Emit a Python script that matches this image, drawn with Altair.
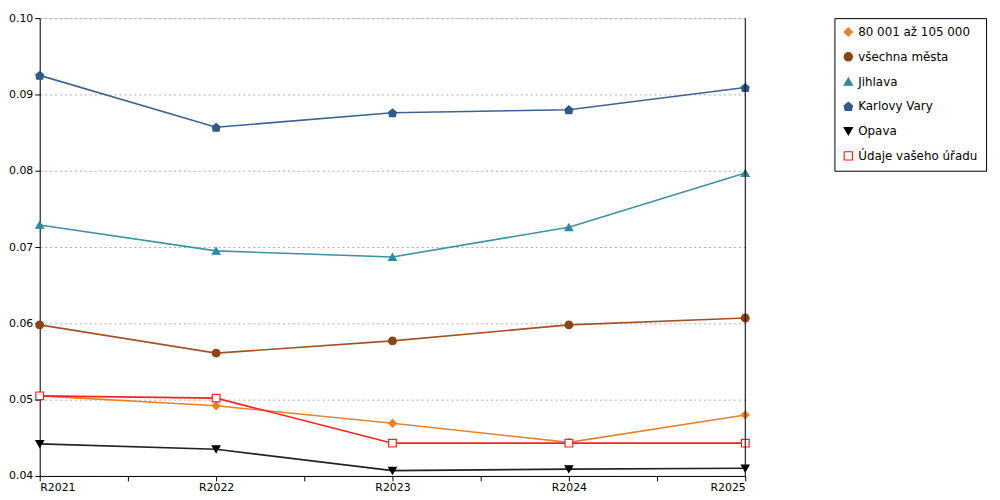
import altair as alt
import pandas as pd

years = ["R2021", "R2022", "R2023", "R2024", "R2025"]
series = ["80 001 až 105 000", "všechna města", "Jihlava", "Karlovy Vary", "Opava", "Údaje vašeho úřadu"]
values = {
    "80 001 až 105 000": [0.0505, 0.0492, 0.0469, 0.0444, 0.0480],
    "všechna města": [0.0598, 0.0561, 0.0577, 0.0598, 0.0607],
    "Jihlava": [0.0729, 0.0695, 0.0687, 0.0726, 0.0797],
    "Karlovy Vary": [0.0925, 0.0857, 0.0876, 0.0880, 0.0909],
    "Opava": [0.0442, 0.0435, 0.0407, 0.0409, 0.0410],
    "Údaje vašeho úřadu": [0.0505, 0.0502, 0.0443, 0.0443, 0.0443],
}
line_colors = ["#E8822A", "#A0522D", "#3E92A3", "#3E6393", "#222222", "#FF2020"]
marker_fill = ["#E8822A", "#8B4513", "#2E8A9C", "#2F5A8C", "#000000", "#FFFFFF"]
marker_stroke = ["#E8822A", "#8B4513", "#2E8A9C", "#2F5A8C", "#000000", "#FF2020"]
shapes = ["diamond", "circle", "triangle-up", "M0,-1L1,-0.15L0.75,1L-0.75,1L-1,-0.15Z",
          "triangle-down", "square"]

rows = []
for s in series:
    for i, v in enumerate(values[s]):
        rows.append({"series": s, "i": i, "year": years[i], "value": v})
df = pd.DataFrame(rows)

x = alt.X("i:Q", scale=alt.Scale(domain=[0, 4], nice=False),
          axis=alt.Axis(title=None, values=[0, 0.5, 1, 1.5, 2, 2.5, 3, 3.5, 4],
                        labelExpr="datum.value % 1 == 0 ? ['R2021','R2022','R2023','R2024','R2025'][datum.value] : ''",
                        grid=False, domainColor="#000", tickColor="#000", labelColor="#000",
                        labelPadding=1))
y = alt.Y("value:Q", scale=alt.Scale(domain=[0.04, 0.10], nice=False),
          axis=alt.Axis(title=None, values=[0.04, 0.05, 0.06, 0.07, 0.08, 0.09, 0.10], format=".2f",
                        gridDash=[2, 3], gridColor="#aaa", domainColor="#000", tickColor="#000",
                        labelColor="#000"))

lines = alt.Chart(df).mark_line(strokeWidth=1.6).encode(
    x=x, y=y,
    color=alt.Color("series:N", scale=alt.Scale(domain=series, range=line_colors), legend=None),
    detail="series:N",
)
leg = alt.Legend(title=None, orient="none", legendX=802, legendY=0, strokeColor="#000",
                 padding=8, rowPadding=11, symbolSize=70, labelFontSize=12, labelColor="#000",
                 symbolStrokeWidth=1.2)
points = alt.Chart(df).mark_point(size=60, strokeWidth=1.2, opacity=1).encode(
    x=x, y=y,
    fill=alt.Fill("series:N", scale=alt.Scale(domain=series, range=marker_fill), legend=leg),
    stroke=alt.Stroke("series:N", scale=alt.Scale(domain=series, range=marker_stroke), legend=leg),
    shape=alt.Shape("series:N", scale=alt.Scale(domain=series, range=shapes), legend=leg),
)
right = alt.Chart(pd.DataFrame({"i": [4]})).mark_rule(color="#000").encode(x="i:Q")

chart = (lines + points + right).resolve_scale(color="independent").properties(
    width=712, height=462, padding={"left": 0, "top": 2, "right": 5, "bottom": 2}
).configure_view(stroke=None).configure(font="DejaVu Sans").configure_axis(labelFontSize=11)

chart.save("out.html", embed_options={"renderer": "svg", "actions": False})
